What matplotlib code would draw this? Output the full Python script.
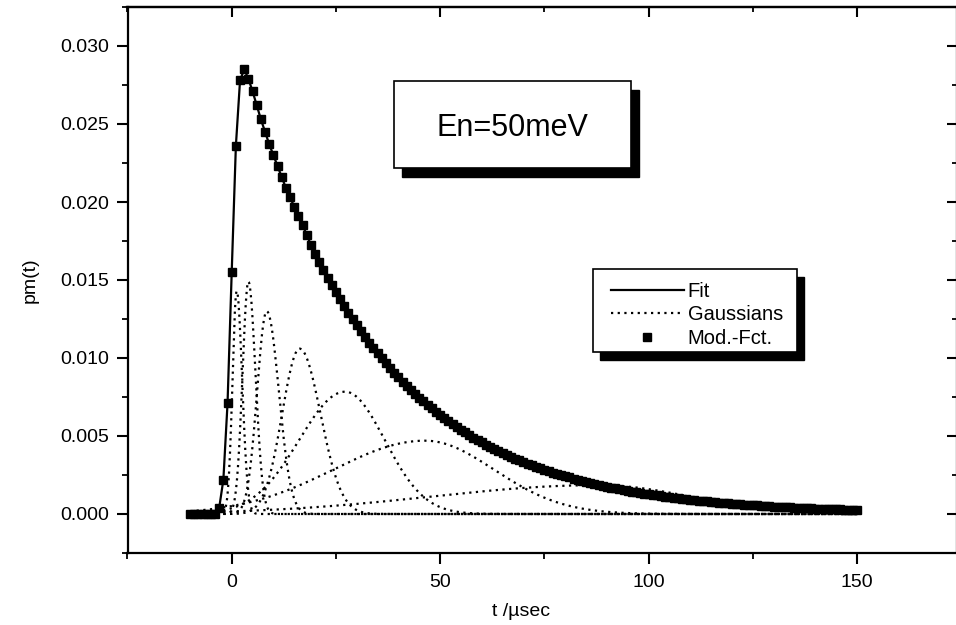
import matplotlib
matplotlib.use("Agg")
import matplotlib.pyplot as plt
import numpy as np
from matplotlib.lines import Line2D
from matplotlib.patches import Rectangle
from matplotlib.transforms import IdentityTransform
from matplotlib.ticker import MultipleLocator, FormatStrFormatter

plt.rcParams['font.family'] = ['Liberation Sans', 'DejaVu Sans']

# ---------------- data ----------------
mod_t = list(range(-10, 151))          # t / usec, 1 usec spacing
mod_values = [
    0, 0, 0, 0, 0, 0, 0, 0.0004, 0.0022, 0.0071,                                    # -10..-1
    0.0155, 0.0236, 0.0278, 0.0285, 0.0279, 0.0271, 0.0262, 0.0253, 0.0245, 0.0237,  # 0..9
    0.0230, 0.0223, 0.0216, 0.0209, 0.0203, 0.0197, 0.0191, 0.0185, 0.0179, 0.01724,
    0.01669, 0.01616, 0.01565, 0.01515, 0.01467, 0.01421, 0.01376, 0.01332, 0.01290, 0.01249,
    0.01209, 0.01171, 0.01134, 0.01098, 0.01063, 0.01029, 0.00997, 0.00965, 0.00934, 0.00905,
    0.00876, 0.00848, 0.00821, 0.00795, 0.00770, 0.00746, 0.00722, 0.00699, 0.00677, 0.00655,
    0.00635, 0.00615, 0.00595, 0.00576, 0.00558, 0.00540, 0.00523, 0.00506, 0.00490, 0.00475,
    0.00460, 0.00445, 0.00431, 0.00417, 0.00404, 0.00391, 0.00379, 0.00367, 0.00355, 0.00344,
    0.00333, 0.00322, 0.00312, 0.00302, 0.00293, 0.00283, 0.00274, 0.00266, 0.00257, 0.00249,
    0.00241, 0.00234, 0.00226, 0.00219, 0.00212, 0.00205, 0.00199, 0.00193, 0.00187, 0.00181,
    0.00175, 0.00169, 0.00164, 0.00159, 0.00154, 0.00149, 0.00144, 0.00140, 0.00135, 0.00131,
    0.00127, 0.00123, 0.00119, 0.00115, 0.00111, 0.00108, 0.00104, 0.00101, 0.00098, 0.00095,
    0.00092, 0.00089, 0.00086, 0.00083, 0.00081, 0.00078, 0.00076, 0.00073, 0.00071, 0.00069,
    0.00067, 0.00064, 0.00062, 0.00060, 0.00058, 0.00057, 0.00055, 0.00053, 0.00051, 0.00050,
    0.00048, 0.00047, 0.00045, 0.00044, 0.00042, 0.00041, 0.00040, 0.00038, 0.00037, 0.00036,
    0.00035, 0.00034, 0.00033, 0.00032, 0.00031, 0.00030, 0.00029, 0.00028, 0.00027, 0.00026,
    0.00025,
]
fit_t = mod_t
fit_values = mod_values

# Gaussian components (peak position, peak height, left / right widths)
gauss_center = [1.2, 4.0, 8.4, 16.3, 27.2, 46.4, 88.0]
gauss_amp = [0.0143, 0.0149, 0.0130, 0.0106, 0.00784, 0.0047, 0.00185]
gauss_sigma_left = [1.0, 1.4, 2.3, 4.2, 11.0, 22.0, 40.0]
gauss_sigma_right = [1.3, 1.7, 2.9, 5.0, 9.5, 16.5, 22.0]

x_ticks = [0, 50, 100, 150]
y_ticks = [0.000, 0.005, 0.010, 0.015, 0.020, 0.025, 0.030]
legend_labels = ['Fit', 'Gaussians', 'Mod.-Fct.']
annotation = 'En=50meV'
x_label = 't /\u00b5sec'
y_label = 'pm(t)'

# ---------------- figure ----------------
W, H = 956, 625
fig = plt.figure(figsize=(W / 100, H / 100), dpi=100)
L, R, T, B = 127.5, 957.0, 7.0, 553.0
ax = fig.add_axes([L / W, (H - B) / H, (R - L) / W, (B - T) / H])
ax.set_xlim(-25, 174)
ax.set_ylim(-0.0025, 0.0325)

DOT = (0, (1, 2.0))
tg = np.linspace(-10, 150, 1281)
for c, a, sl, sr in zip(gauss_center, gauss_amp, gauss_sigma_left, gauss_sigma_right):
    s = np.where(tg < c, sl, sr)
    ax.plot(tg, a * np.exp(-0.5 * ((tg - c) / s) ** 2), color='black',
            lw=1.6, linestyle=DOT, zorder=2)

ax.plot(fit_t, fit_values, color='black', lw=1.6, zorder=3)
ax.plot(mod_t, mod_values, linestyle='none', marker='s', markersize=5.9,
        color='black', zorder=4)

# axes styling
for sp in ax.spines.values():
    sp.set_linewidth(1.6)
ax.xaxis.set_minor_locator(MultipleLocator(25))
ax.yaxis.set_minor_locator(MultipleLocator(0.0025))
ax.set_xticks(x_ticks)
ax.set_yticks(y_ticks)
ax.yaxis.set_major_formatter(FormatStrFormatter('%.3f'))
ax.tick_params(which='major', direction='out', length=8, width=1.5, labelsize=14, pad=5)
ax.tick_params(which='minor', direction='out', length=4.5, width=1.3)
ax.tick_params(axis='x', which='major', pad=7)

top = ax.secondary_xaxis('top')
top.set_xticks(x_ticks)
top.xaxis.set_minor_locator(MultipleLocator(25))
top.tick_params(which='major', direction='in', length=7, width=1.5, labeltop=False)
top.tick_params(which='minor', direction='in', length=3.5, width=1.3)
right = ax.secondary_yaxis('right')
right.set_yticks(y_ticks)
right.yaxis.set_minor_locator(MultipleLocator(0.0025))
right.tick_params(which='major', direction='in', length=7, width=1.5, labelright=False)
right.tick_params(which='minor', direction='in', length=3.5, width=1.3)
for sec in (top, right):
    for sp in sec.spines.values():
        sp.set_linewidth(1.6)

ax.set_xlabel(x_label, fontsize=14)
ax.set_ylabel(y_label, fontsize=14)
ax.xaxis.set_label_coords((521 - L) / (R - L), -(612 - B) / (B - T), transform=ax.transAxes)
ax.yaxis.set_label_coords(-(L - 30) / (R - L), 0.5, transform=ax.transAxes)
ax.xaxis.label.set_va('center')
ax.yaxis.label.set_va('center')

ident = IdentityTransform()

def shadow_box(x0, y0, x1, y1, dx, dy, z):
    # image pixel coords (top-left origin) -> display coords
    ax.add_patch(Rectangle((x0 + dx, H - y1 - dy), x1 - x0, y1 - y0, transform=ident,
                           facecolor='black', edgecolor='black', zorder=z, clip_on=False))
    ax.add_patch(Rectangle((x0, H - y1), x1 - x0, y1 - y0, transform=ident,
                           facecolor='white', edgecolor='black', lw=1.2, zorder=z + 0.5,
                           clip_on=False))

# annotation box
shadow_box(394, 81, 631, 168, 8, 9, 6)
ax.text((394 + 631) / 2, H - 128, annotation, transform=ident, ha='center', va='center',
        fontsize=22, zorder=8)

# legend box
shadow_box(593, 269, 797, 352, 7, 8, 6)
handles = [
    Line2D([], [], color='black', lw=1.6),
    Line2D([], [], color='black', lw=1.6, linestyle=DOT),
    Line2D([], [], color='black', linestyle='none', marker='s', markersize=5.4),
]
leg = ax.legend(handles, legend_labels, loc='upper left', bbox_to_anchor=(607, H - 278),
                bbox_transform=ident, frameon=False, fontsize=14.5, handlelength=3.6,
                handletextpad=0.2, labelspacing=0.22, borderpad=0.2, borderaxespad=0)
leg.set_zorder(9)

fig.savefig('out.png', dpi=100)
